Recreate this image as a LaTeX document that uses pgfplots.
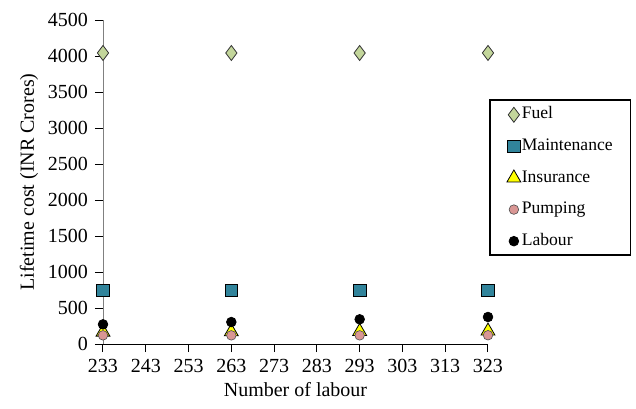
\documentclass[border=0pt]{standalone}
\usepackage{fontspec}
\setmainfont{Liberation Serif}
\usepackage{pgfplots}
\pgfplotsset{compat=1.18}
\definecolor{fuelc}{HTML}{C3D69B}
\definecolor{maintc}{HTML}{31849B}
\definecolor{insc}{HTML}{FFFF00}
\definecolor{pumpc}{HTML}{D99694}
\begin{document}
\begin{tikzpicture}
\begin{axis}[
  scale only axis,
  width=192.5pt, height=162pt,
  xmin=233, xmax=323, ymin=0, ymax=4500,
  xtick={233,243,...,323},
  ytick={0,500,...,4500},
  axis x line*=bottom, axis y line*=left,
  x axis line style={black, -},
  y axis line style={gray, -},
  tick style={black, line width=0.5pt},
  major tick length=4pt,
  tick align=outside,
  /pgf/number format/assume math mode=true,
  /pgf/number format/1000 sep={},
  tick label style={font=\fontsize{10}{12}\selectfont},
  xlabel={Number of labour},
  ylabel={Lifetime cost (INR Crores)},
  label style={font=\fontsize{10}{12}\selectfont},
  xlabel style={yshift=2pt},
  ylabel style={yshift=-2pt},
  clip=false,
  legend style={at={(1.003,0.756)}, anchor=north west, draw=black, line width=0.8pt,
    font=\fontsize{8.8}{10}\selectfont, row sep=7.3pt, inner xsep=8.5pt, inner ysep=3pt,
    cells={anchor=west}, nodes={inner xsep=0.5pt, inner ysep=0pt, text height=6.5pt, text depth=2pt}},
  legend image code/.code={\draw[#1, line width=0.4pt] plot coordinates {(0pt,-0.2pt)};},
]
\addplot[only marks, mark=diamond*, mark size=3.75pt, mark options={fill=fuelc, draw=black!80, line width=0.4pt}]
  coordinates {(233,4042) (263,4042) (293,4042) (323,4042)};
\addlegendentry{Fuel}
\addplot[only marks, mark=square*, mark size=3.2pt, mark options={fill=maintc, draw=black, line width=0.4pt}]
  coordinates {(233,745) (263,745) (293,745) (323,745)};
\addlegendentry{Maintenance}
\addplot[only marks, mark=triangle*, mark size=4pt, mark options={fill=insc, draw=black, line width=0.4pt}]
  coordinates {(233,165) (263,170) (293,175) (323,180)};
\addlegendentry{Insurance}
\addplot[only marks, mark=*, mark size=2.4pt, mark options={fill=pumpc, draw=black!70, line width=0.3pt}]
  coordinates {(233,120) (263,120) (293,120) (323,122)};
\addlegendentry{Pumping}
\addplot[only marks, mark=*, mark size=2.4pt, mark options={fill=black, draw=black}]
  coordinates {(233,273) (263,305) (293,343) (323,375)};
\addlegendentry{Labour}
\end{axis}
\path (current axis.south west) ++(-51.5pt,-32pt) rectangle ++(318pt,204pt);
\end{tikzpicture}
\end{document}
